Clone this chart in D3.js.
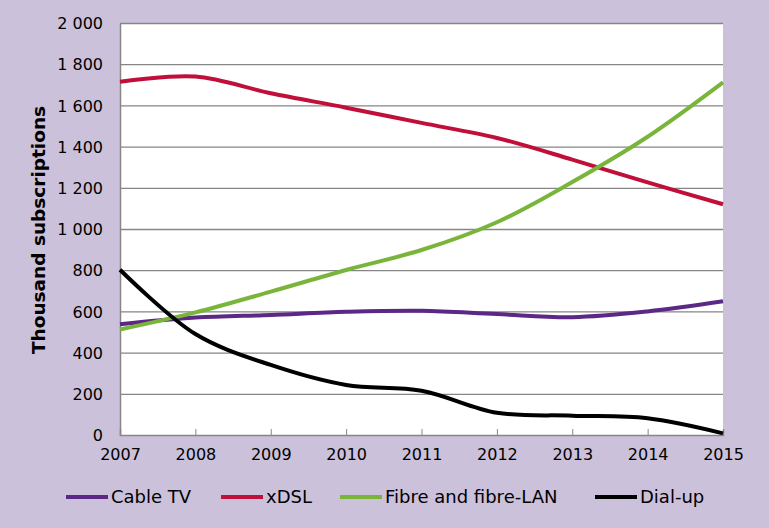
<!DOCTYPE html>
<html><head><meta charset="utf-8">
<script src="https://cdn.jsdelivr.net/npm/d3@7"></script>
<style>
html,body{margin:0;padding:0;background:#ccc1da;}
svg{display:block;}
text{font-family:"DejaVu Sans",Verdana,sans-serif;fill:#000;}
</style></head>
<body>
<svg id="chart" width="769" height="528"></svg>
<script>
const years = [2007, 2008, 2009, 2010, 2011, 2012, 2013, 2014, 2015];
const cableTV = [538, 570, 583, 598, 603, 587, 572, 600, 649];
const xDSL = [1715, 1740, 1659, 1589, 1515, 1442, 1337, 1226, 1120];
const fibre = [512, 595, 696, 801, 898, 1033, 1228, 1448, 1712];
const dialUp = [802, 490, 340, 243, 215, 108, 94, 81, 8];
const seriesNames = ["Cable TV", "xDSL", "Fibre and fibre-LAN", "Dial-up"];
const seriesColors = ["#5b2885", "#c0103a", "#79b53b", "#000000"];
const yTicks = [0, 200, 400, 600, 800, 1000, 1200, 1400, 1600, 1800, 2000];
const yTitle = "Thousand subscriptions";

const allSeries = [cableTV, xDSL, fibre, dialUp];
const svg = d3.select("#chart");
const L = 120, R = 723, T = 23, B = 435;

svg.append("rect").attr("x", L).attr("y", T).attr("width", R - L).attr("height", B - T).attr("fill", "#fff");

const x = d3.scaleLinear().domain([2007, 2015]).range([L, R]);
const y = d3.scaleLinear().domain([0, 2000]).range([B, T]);

// gridlines
svg.append("g").selectAll("line").data(yTicks.filter(d => d > 0)).join("line")
  .attr("x1", L).attr("x2", R).attr("y1", d => y(d) + 0.5).attr("y2", d => y(d) + 0.5)
  .attr("stroke", "#868686").attr("stroke-width", 1.3);

// y axis
const fmt = d => d3.format(",")(d).replace(/,/g, " ");
const yAxis = svg.append("g").attr("transform", `translate(${L},0)`)
  .call(d3.axisLeft(y).tickValues(yTicks).tickFormat(fmt).tickSize(0).tickPadding(17));
yAxis.select(".domain").attr("stroke", "#868686").attr("stroke-width", 1.5);
yAxis.selectAll("text").style("font-size", "16px").attr("font-family", "DejaVu Sans").attr("fill", "#000").attr("dy", "0.36em");

// x axis
const xAxis = svg.append("g").attr("transform", `translate(0,${B})`)
  .call(d3.axisBottom(x).tickValues(years).tickFormat(d3.format("d")).tickSize(-6).tickPadding(14));
xAxis.select(".domain").attr("stroke", "#868686").attr("stroke-width", 1.5);
xAxis.selectAll("line").attr("stroke", "#868686");
xAxis.selectAll("text").style("font-size", "16px").attr("font-family", "DejaVu Sans").attr("fill", "#000");

// y title
svg.append("text").attr("transform", `translate(45,230) rotate(-90)`)
  .attr("text-anchor", "middle").style("font-size", "18.5px").style("font-weight", "bold").text(yTitle);

// lines
const line = d3.line().x((d, i) => x(years[i])).y(d => y(d)).curve(d3.curveCatmullRom.alpha(0.5));
svg.append("g").selectAll("path").data(allSeries).join("path")
  .attr("d", d => line(d)).attr("fill", "none")
  .attr("stroke", (d, i) => seriesColors[i]).attr("stroke-width", 4).attr("stroke-linejoin", "round");

// legend
const legX = [66, 221, 340, 595];
const lg = svg.append("g").selectAll("g").data(seriesNames).join("g")
  .attr("transform", (d, i) => `translate(${legX[i]},497)`);
lg.append("line").attr("x1", 0).attr("x2", 42).attr("y1", 0).attr("y2", 0)
  .attr("stroke", (d, i) => seriesColors[i]).attr("stroke-width", 4);
lg.append("text").attr("x", 45).attr("y", 0).attr("dy", "0.36em").style("font-size", "18px").text(d => d);
</script>
</body></html>
